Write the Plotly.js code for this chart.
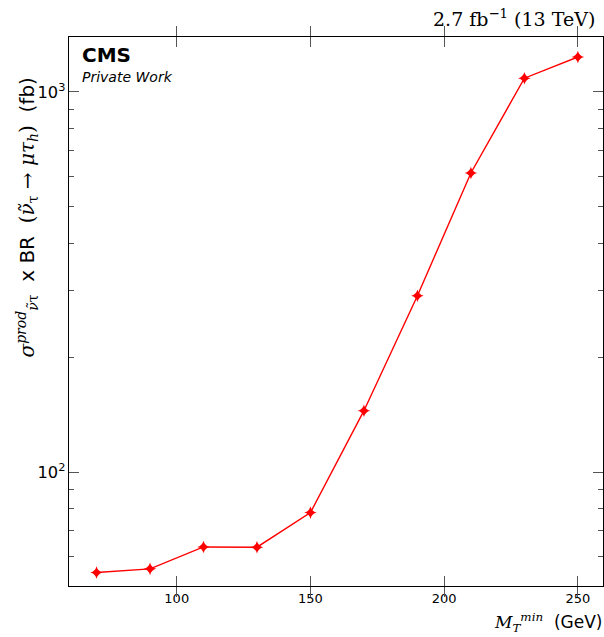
<!DOCTYPE html>
<html>
<head>
<meta charset="utf-8">
<script src="https://cdn.plot.ly/plotly-3.0.1.min.js"></script>
<style>html,body{margin:0;padding:0;background:#fff;}</style>
</head>
<body>
<div id="chart" style="width:604px;height:637px;"></div>
<script>
// Data
var mtMin = [70, 90, 110, 130, 150, 170, 190, 210, 230, 250];
var xsecBR = [54.4, 55.6, 63.5, 63.4, 78.2, 145, 291, 612, 1087, 1236];
var xTickVals = [100, 150, 200, 250];
var yMinorTicks = [60, 70, 80, 90, 200, 300, 400, 500, 600, 700, 800, 900];

var W = 604, H = 637;
var mL = 69, mR = 1, mT = 37, mB = 51;
var pw = W - mL - mR, ph = H - mT - mB;
function px(x){ return (x - mL) / pw; }
function py(y){ return (H - mB - y) / ph; }

var serif = "DejaVu Serif, Liberation Serif, serif";
var sans = "DejaVu Sans, sans-serif";
var yRange = [1.7, 3.1447];

var trace = {
  x: mtMin, y: xsecBR, type: 'scatter', mode: 'lines+markers',
  line: {color: '#ff0000', width: 1.4},
  marker: {symbol: 'star-diamond', size: 9, color: '#ff0000', line: {width: 0}},
  showlegend: false, hoverinfo: 'skip'
};
// hidden carrier for the minor-tick overlay axis
var carrier = {
  x: mtMin, y: xsecBR, yaxis: 'y2', type: 'scatter', mode: 'none',
  showlegend: false, hoverinfo: 'skip'
};

var ms = "<span style=\"font-family:DejaVu Serif\">";
var yTitle = ms + "<i>σ</i><sup><i>prod</i></sup><sub><i>ν̃</i>τ</sub></span>" +
  "  x BR  " + ms + "(<i>ν̃</i><sub>τ</sub> → <i>μτ</i><sub><i>h</i></sub>)</span>  (fb)";

var layout = {
  width: W, height: H,
  margin: {l: mL, r: mR, t: mT, b: mB, pad: 0},
  paper_bgcolor: '#fff', plot_bgcolor: 'rgba(0,0,0,0)',
  font: {family: sans, size: 12, color: '#000'},
  xaxis: {
    range: [59.7, 259.4], showgrid: false, zeroline: false,
    tickvals: xTickVals, ticktext: xTickVals.map(String),
    ticks: 'inside', ticklen: 10, tickwidth: 1, tickcolor: '#555',
    mirror: 'allticks', showline: true, linecolor: '#000', linewidth: 1,
    tickfont: {size: 13, family: sans}
  },
  yaxis: {
    type: 'log', range: yRange, showgrid: false, zeroline: false,
    dtick: 1, exponentformat: 'power',
    ticks: 'inside', ticklen: 10, tickwidth: 1, tickcolor: '#555',
    mirror: 'allticks', showline: true, linecolor: '#000', linewidth: 1,
    tickfont: {size: 13, family: sans}
  },
  yaxis2: {
    type: 'log', range: yRange, overlaying: 'y', side: 'left',
    showgrid: false, zeroline: false, showline: false,
    tickvals: yMinorTicks, showticklabels: false,
    ticks: 'inside', ticklen: 5, tickwidth: 1, tickcolor: '#555',
    mirror: 'allticks'
  },
  annotations: [
    {text: '<b>CMS</b>', xref: 'paper', yref: 'paper', x: px(80), y: py(41),
     xanchor: 'left', yanchor: 'top', showarrow: false,
     font: {size: 20, family: sans, color: '#000'}},
    {text: '<i>Private Work</i>', xref: 'paper', yref: 'paper', x: px(80), y: py(67),
     xanchor: 'left', yanchor: 'top', showarrow: false,
     font: {size: 14, family: sans, color: '#000'}},
    {text: '2.7 fb<sup>−1</sup> (13 TeV)', xref: 'paper', yref: 'paper', x: px(597), y: py(4),
     xanchor: 'right', yanchor: 'top', showarrow: false,
     font: {size: 19, family: serif, color: '#000'}},
    {text: ms + "<i>M</i><sub><i>T</i></sub><sup><i>min</i></sup></span>  (GeV)",
     xref: 'paper', yref: 'paper', x: px(604), y: py(608),
     xanchor: 'right', yanchor: 'top', showarrow: false,
     font: {size: 17, family: sans, color: '#000'}},
    {text: yTitle, xref: 'paper', yref: 'paper', x: px(10), y: py(76),
     xanchor: 'left', yanchor: 'top', textangle: -90, showarrow: false,
     font: {size: 20, family: sans, color: '#000'}}
  ]
};

Plotly.newPlot('chart', [trace, carrier], layout, {displayModeBar: false, staticPlot: true});
</script>
</body>
</html>
